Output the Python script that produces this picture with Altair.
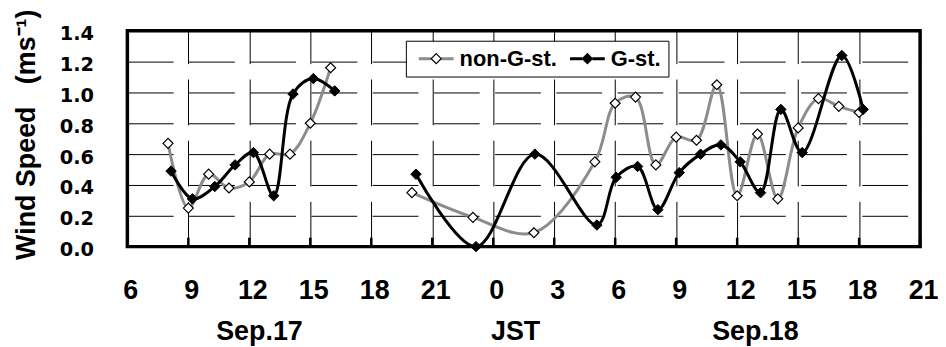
import altair as alt
import pandas as pd

# ---------------- data ----------------
series_names = ["non-G-st.", "G-st."]

# hours counted from Sep.17 00:00 JST
nong_hours = [8, 9, 10, 11, 12, 13, 14, 15, 16,
              20, 23, 26, 29, 30, 31, 32, 33, 34, 35, 36, 37, 38, 39, 40, 41, 42]
nong_speed = [0.67, 0.25, 0.47, 0.38, 0.42, 0.60, 0.60, 0.80, 1.16,
              0.35, 0.19, 0.09, 0.55, 0.93, 0.97, 0.53, 0.71, 0.69, 1.05, 0.33, 0.73,
              0.31, 0.77, 0.96, 0.91, 0.87]
nong_segment = [1] * 9 + [2] * 17

g_hours = [8.15, 9.2, 10.3, 11.3, 12.2, 13.2, 14.15, 15.15, 16.2,
           20.2, 23.15, 26.05, 29.1, 30.05, 31.1, 32.1, 33.15, 34.2, 35.2, 36.15,
           37.15, 38.15, 39.2, 41.15, 42.2]
g_speed = [0.49, 0.31, 0.39, 0.53, 0.61, 0.33, 0.99, 1.09, 1.01,
           0.47, 0.00, 0.60, 0.14, 0.45, 0.52, 0.24, 0.48, 0.60, 0.66, 0.55,
           0.35, 0.89, 0.61, 1.24, 0.89]
g_segment = [1] * 9 + [2] * 16

tick_hours = list(range(6, 46, 3))
y_ticks = [0.0, 0.2, 0.4, 0.6, 0.8, 1.0, 1.2, 1.4]
under_labels = ["Sep.17", "JST", "Sep.18"]
under_hours = [12.5, 25.1, 36.9]

# ---------------- build tables ----------------
rows = []
for h, v, s in zip(nong_hours, nong_speed, nong_segment):
    rows.append({"hour": h, "speed": v, "series": series_names[0],
                 "series_l": series_names[0], "segment": s})
for h, v, s in zip(g_hours, g_speed, g_segment):
    rows.append({"hour": h, "speed": v, "series": series_names[1],
                 "series_l": series_names[1], "segment": s})
df = pd.DataFrame(rows)
ticks_df = pd.DataFrame({"hour": tick_hours})
under_df = pd.DataFrame({"hour": under_hours, "label": under_labels})

W, H = 797, 217
GRAY = "#8c8c8c"
BOLD = "Liberation Sans"

x_scale = alt.Scale(domain=[6, 45], nice=False, zero=False)
y_scale = alt.Scale(domain=[0, 1.4], nice=False)

x_axis = alt.Axis(values=tick_hours, labelExpr="datum.value % 24", title=None,
                  grid=True, gridDash=[46, 15.5], gridDashOffset=13,
                  gridColor="#000000", gridWidth=1, domain=False, ticks=False,
                  tickSize=0, labelPadding=31, labelOffset=3, labelFlush=False,
                  labelOverlap=False, labelFont=BOLD, labelFontWeight="bold",
                  labelFontSize=27, labelColor="black")
y_axis = alt.Axis(values=y_ticks, format=".1f",
                  title="Wind Speed\u00a0\u00a0\u00a0(ms\u207b\u00b9)",
                  grid=True, gridDash=[46, 15.54], gridColor="#000000", gridWidth=1,
                  domain=False, ticks=False, tickSize=0, labelPadding=34,
                  labelOffset=3, labelFont="DejaVu Sans", labelFontWeight="bold",
                  labelFontSize=19.5, labelColor="black",
                  titleFont=BOLD, titleFontWeight="bold", titleFontSize=27,
                  titleColor="black", titleX=-101, titleY=104, titleAngle=270,
                  titleAlign="center", titleBaseline="middle")

x_enc = alt.X("hour:Q", scale=x_scale, axis=x_axis)
y_enc = alt.Y("speed:Q", scale=y_scale, axis=y_axis)

legend_common = dict(title=None, orient="none", legendX=280, legendY=10,
                     direction="horizontal", symbolSize=100, labelFont=BOLD,
                     labelFontWeight="bold", labelFontSize=22, labelColor="black",
                     labelOffset=25, columnPadding=7, padding=7, labelLimit=400)

legend_lines = alt.Legend(symbolType="M-1,0H1.5M3.5,0H6", symbolStrokeWidth=3,
                          strokeColor="black", fillColor="white", zindex=1,
                          **legend_common)
legend_marks = alt.Legend(symbolType="M-1,0M6,0M1.5,0L2.5,-1L3.5,0L2.5,1Z",
                          symbolStrokeWidth=1.2, symbolStrokeColor="black",
                          labelOpacity=0, zindex=2, **legend_common)

stroke_enc = alt.Stroke("series_l:N",
                        scale=alt.Scale(domain=series_names, range=[GRAY, "black"]),
                        legend=legend_lines)
fill_enc = alt.Fill("series:N", sort="descending",
                    scale=alt.Scale(range=["white", "black"]),
                    legend=legend_marks)

base = alt.Chart(df)


def line_layer(name):
    return base.transform_filter(alt.datum.series == name).mark_line(
        strokeWidth=3, interpolate="catmull-rom", strokeJoin="round"
    ).encode(x=x_enc, y=y_enc, stroke=stroke_enc, detail="segment:N")


def point_layer(name, size, sw):
    return base.transform_filter(alt.datum.series == name).mark_point(
        shape="diamond", filled=True, size=size, stroke="black",
        strokeWidth=sw, opacity=1
    ).encode(x=x_enc, y=y_enc, fill=fill_enc)


tick_marks = alt.Chart(ticks_df).mark_rule(stroke="black", strokeWidth=2.5).encode(
    x=x_enc, y=alt.value(H - 9), y2=alt.value(H))

under_text = alt.Chart(under_df).mark_text(
    font=BOLD, fontWeight="bold", fontSize=27, baseline="alphabetic",
    align="center", color="black"
).encode(x=x_enc, y=alt.value(311), text="label:N")

chart = alt.layer(
    tick_marks,
    line_layer(series_names[0]),
    point_layer(series_names[0], 100, 1.2),
    line_layer(series_names[1]),
    point_layer(series_names[1], 110, 1),
    under_text,
).properties(
    width=W, height=H,
    autosize=alt.AutoSizeParams(type="none"),
    padding={"left": 120, "top": 22, "right": 18, "bottom": 100},
    background="white",
).configure_view(stroke="black", strokeWidth=3.5)

chart.save("out.html", embed_options={"renderer": "svg", "actions": False})
